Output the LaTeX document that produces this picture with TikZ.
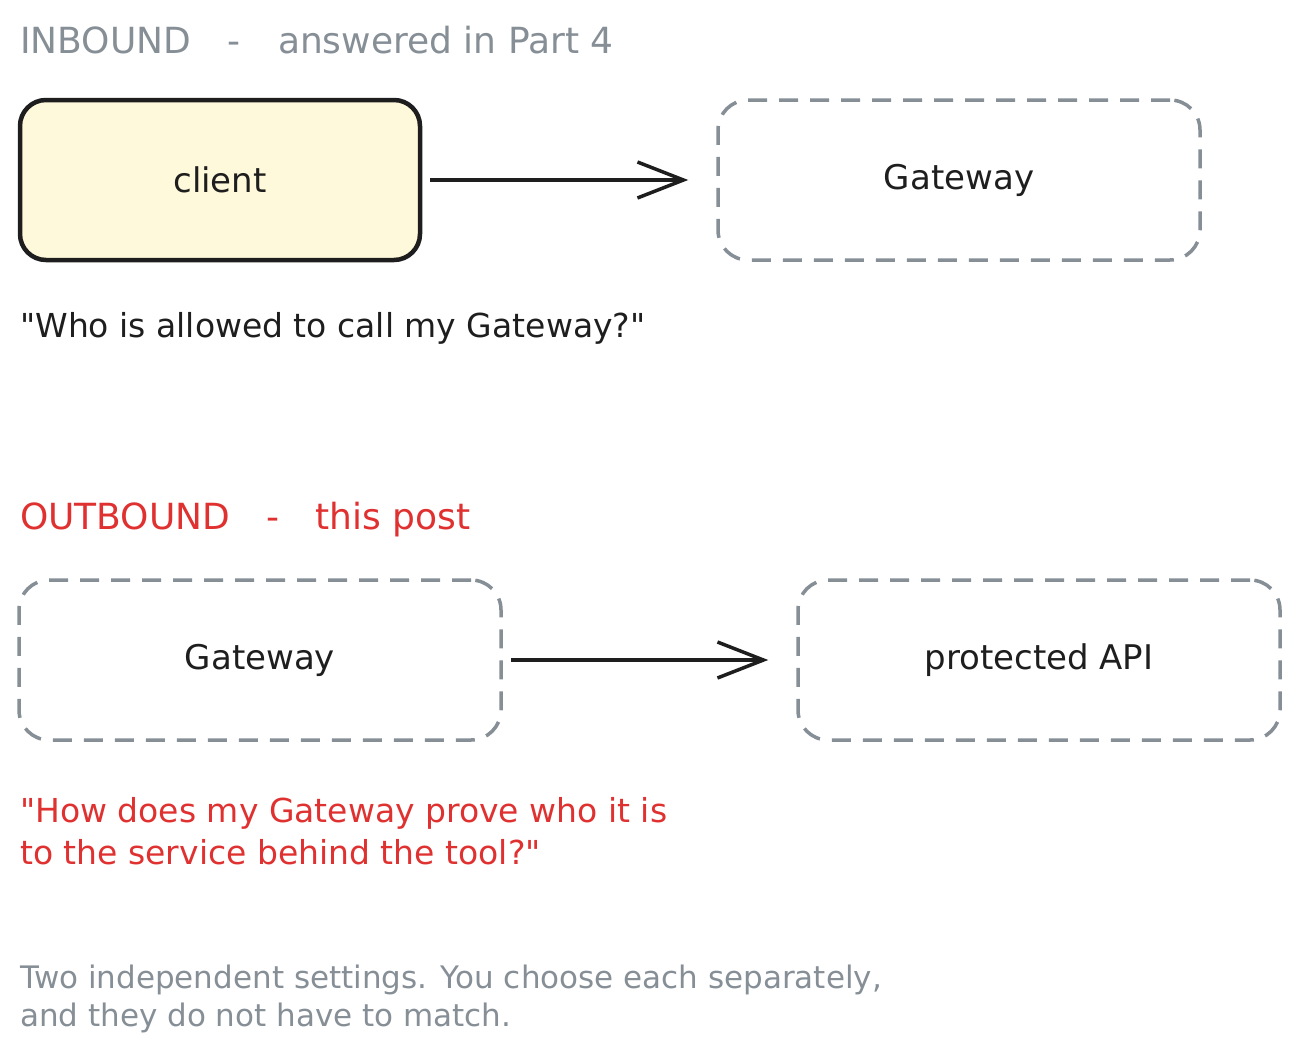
\documentclass[tikz,border=0pt]{standalone}
\usepackage{fontspec}
\setmainfont{DejaVu Sans}[Ligatures=TeXOff]
\usetikzlibrary{arrows.meta,positioning}
\definecolor{skGray}{HTML}{868E96}
\definecolor{skRed}{HTML}{E03131}
\definecolor{skInk}{HTML}{1E1E1E}
\definecolor{skYellow}{HTML}{FFF9DB}
\tikzset{
  solidbox/.style={draw=skInk, fill=skYellow, line width=4.5pt, rounded corners=26pt,
    minimum width=400pt, minimum height=160pt, text=skInk, font=\fontsize{34}{40}\selectfont},
  dashbox/.style={draw=skGray, line width=3.5pt, rounded corners=30pt, dash pattern=on 19pt off 12pt,
    minimum width=482pt, minimum height=160pt, text=skInk, font=\fontsize{34}{40}\selectfont},
  flow/.style={draw=skInk, line width=3.5pt, -{Straight Barb[length=46pt,width=36pt,line width=3.5pt]}},
  note/.style={anchor=west, inner sep=0pt, align=left},
}
\begin{document}
\begin{tikzpicture}[x=1pt,y=-1pt]
    \useasboundingbox (0,0) rectangle (1300,1060);

    % inbound
    \node[note, text=skGray, font=\fontsize{36}{42}\selectfont] (inTitle) at (20,40)
        {INBOUND\hspace{36pt}-\hspace{38pt}answered in Part 4};
    \node[solidbox] (client) at (220,180) {client};
    \node[dashbox] (gwIn) at (959,180) {Gateway};
    \node[note, text=skInk, font=\fontsize{33}{38}\selectfont] (inAsk) at (20,328)
        {"Who is allowed to call my Gateway?"};

    % outbound
    \node[note, text=skRed, font=\fontsize{36}{42}\selectfont] (outTitle) at (20,520)
        {OUTBOUND\hspace{36pt}-\hspace{36pt}this post};
    \node[dashbox] (gwOut) at (260,660) {Gateway};
    \node[dashbox] (api) at (1039,660) {protected API};
    \node[note, text=skRed, font=\fontsize{33}{42}\selectfont] (outAsk) at (20,831)
        {"How does my Gateway prove who it is\\to the service behind the tool?"};

    % footnote
    \node[note, text=skGray, font=\fontsize{31}{38}\selectfont] (summary) at (20,999)
        {Two independent settings. You choose each separately,\\and they do not have to match.};

    \draw[flow, shorten <=8pt, shorten >=28pt] (client.east) -- (gwIn.west);
    \draw[flow, shorten <=8pt, shorten >=28pt] (gwOut.east) -- (api.west);
\end{tikzpicture}
\end{document}
